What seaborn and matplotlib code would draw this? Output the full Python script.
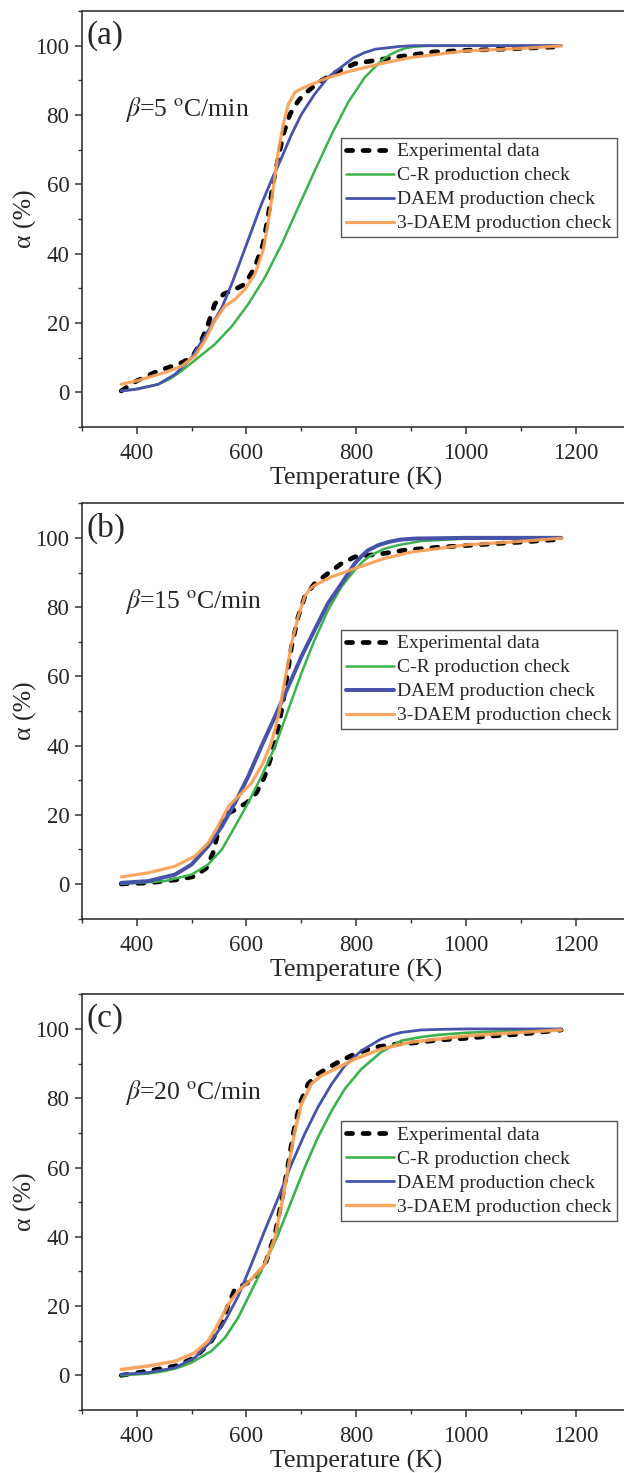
import matplotlib
matplotlib.use("Agg")
import matplotlib.pyplot as plt
import seaborn as sns
import pandas as pd
from matplotlib.ticker import MultipleLocator

# ---------------- data ----------------
# panel (a): beta = 5 C/min
T_exp_a = [372, 400, 439, 476, 500, 515, 530, 542, 558, 579, 597, 615, 630, 639, 648, 658, 667, 679, 694, 703, 712, 730, 761, 797, 840, 876, 941, 1006, 1050, 1100, 1140, 1173]
A_exp_a = [0.4, 3.3, 6.2, 8.1, 10.0, 13.8, 19.6, 25.4, 28.3, 29.7, 31.2, 36.0, 42.7, 50.4, 60.0, 67.7, 74.4, 80.2, 84.0, 85.7, 86.9, 89.3, 92.2, 94.8, 95.9, 96.8, 98.2, 98.7, 98.9, 99.2, 99.5, 99.7]
T_cr_a = [372, 400, 439, 460, 482, 512, 542, 573, 603, 633, 664, 694, 724, 755, 785, 815, 845, 860, 876, 890, 906, 930, 1173]
A_cr_a = [0.4, 1.0, 2.3, 3.8, 6.2, 10.0, 13.8, 19.0, 25.4, 33.0, 42.7, 53.3, 63.8, 74.4, 83.6, 90.8, 95.6, 97.3, 98.5, 99.3, 99.7, 99.95, 100]
T_daem_a = [372, 400, 439, 470, 500, 530, 555, 573, 591, 609, 627, 645, 664, 682, 700, 724, 748, 779, 795, 815, 835, 858, 880, 906, 1000, 1173]
A_daem_a = [0.4, 0.9, 2.3, 5.2, 10.0, 17.7, 24.4, 31.2, 38.8, 46.5, 54.2, 61.0, 67.7, 74.4, 80.2, 86.0, 90.8, 94.6, 96.5, 98.0, 99.0, 99.4, 99.8, 100, 100, 100]
T_3d_a = [372, 400, 451, 482, 506, 524, 542, 561, 579, 597, 615, 630, 639, 648, 658, 667, 676, 688, 700, 712, 742, 785, 850, 900, 1000, 1100, 1173]
A_3d_a = [2.3, 3.3, 5.7, 7.6, 10.5, 14.8, 20.6, 24.9, 26.8, 29.7, 34.0, 40.8, 48.5, 58.0, 69.6, 77.3, 83.0, 86.5, 87.6, 88.4, 90.4, 92.5, 95.0, 96.6, 98.5, 99.2, 99.9]

# panel (b): beta = 15 C/min
T_exp_b = [372, 421, 476, 506, 527, 539, 548, 561, 579, 600, 618, 633, 645, 655, 664, 673, 682, 694, 706, 724, 748, 773, 797, 850, 890, 950, 1000, 1100, 1173]
A_exp_b = [0.0, 0.3, 1.25, 2.2, 4.6, 8.9, 14.7, 20.0, 21.4, 23.4, 26.3, 31.0, 36.8, 42.6, 50.3, 59.0, 68.6, 77.2, 83.0, 86.8, 89.7, 92.6, 94.5, 95.5, 96.5, 97.3, 97.8, 98.8, 99.6]
T_cr_b = [372, 451, 500, 530, 555, 579, 603, 627, 652, 676, 700, 724, 748, 773, 797, 812, 827, 850, 876, 918, 1000, 1173]
A_cr_b = [0.0, 0.8, 2.7, 5.6, 9.9, 16.6, 23.4, 31.0, 39.7, 50.3, 60.9, 70.5, 79.0, 85.9, 90.7, 93.2, 95.0, 96.8, 97.9, 99.1, 99.8, 100]
T_daem_b = [372, 421, 470, 500, 530, 555, 579, 603, 627, 652, 676, 700, 724, 748, 773, 797, 810, 821, 840, 858, 880, 906, 1000, 1173]
A_daem_b = [0.3, 0.8, 2.7, 5.6, 10.9, 16.6, 23.4, 31.0, 39.7, 48.4, 57.0, 65.7, 73.4, 81.0, 86.8, 92.6, 94.8, 96.4, 97.9, 98.8, 99.5, 99.8, 100, 100]
T_3d_b = [372, 421, 470, 506, 530, 548, 567, 585, 609, 630, 645, 658, 670, 682, 694, 706, 715, 724, 755, 800, 850, 900, 1000, 1100, 1173]
A_3d_b = [2.0, 3.2, 5.1, 8.0, 11.8, 16.6, 22.4, 25.3, 29.1, 34.9, 40.7, 48.4, 59.0, 69.5, 77.2, 83.0, 85.2, 86.3, 88.75, 91.3, 94.0, 95.9, 98.0, 99.0, 99.9]

# panel (c): beta = 20 C/min
T_exp_c = [372, 421, 470, 506, 536, 555, 567, 579, 603, 621, 636, 652, 664, 676, 685, 697, 712, 730, 761, 797, 833, 876, 900, 950, 1000, 1050, 1100, 1173]
A_exp_c = [0.0, 1.25, 2.7, 5.1, 9.9, 14.7, 20.5, 24.9, 26.8, 29.2, 33.0, 40.8, 50.4, 61.0, 69.7, 78.3, 84.1, 87.0, 89.9, 92.8, 94.7, 95.7, 95.9, 96.8, 97.3, 98.0, 98.5, 99.7]
T_cr_c = [372, 420, 451, 475, 500, 536, 561, 585, 609, 633, 658, 682, 706, 730, 755, 779, 809, 845, 882, 915, 950, 1000, 1100, 1173]
A_cr_c = [0.0, 0.5, 1.25, 2.2, 3.7, 7.0, 10.9, 16.7, 24.4, 32.1, 40.8, 50.4, 60.0, 68.7, 76.4, 82.7, 88.4, 93.3, 96.6, 97.6, 98.3, 98.9, 99.5, 99.8]
T_daem_c = [372, 421, 470, 506, 536, 561, 585, 609, 633, 658, 682, 706, 730, 755, 779, 809, 845, 865, 882, 918, 960, 1000, 1173]
A_daem_c = [0.3, 0.8, 2.2, 5.1, 9.9, 15.7, 22.9, 32.1, 41.7, 51.3, 61.0, 69.7, 77.4, 84.1, 89.4, 93.7, 97.1, 98.3, 99.0, 99.7, 99.9, 100, 100]
T_3d_c = [372, 421, 470, 506, 530, 548, 567, 585, 609, 633, 652, 664, 676, 688, 700, 718, 736, 767, 797, 845, 900, 1000, 1100, 1173]
A_3d_c = [1.7, 2.7, 4.1, 6.5, 9.9, 14.7, 20.5, 24.4, 27.7, 32.0, 39.8, 49.4, 60.0, 70.6, 78.3, 84.1, 86.5, 88.9, 91.3, 94.2, 96.2, 98.0, 99.0, 99.7]

series_labels = ["Experimental data", "C-R production check", "DAEM production check", "3-DAEM production check"]
panel_tags = ["(a)", "(b)", "(c)"]
rates = ["5", "15", "20"]
x_label = "Temperature (K)"
y_label = "α (%)"

panels = [
    [(T_exp_a, A_exp_a), (T_cr_a, A_cr_a), (T_daem_a, A_daem_a), (T_3d_a, A_3d_a)],
    [(T_exp_b, A_exp_b), (T_cr_b, A_cr_b), (T_daem_b, A_daem_b), (T_3d_b, A_3d_b)],
    [(T_exp_c, A_exp_c), (T_cr_c, A_cr_c), (T_daem_c, A_daem_c), (T_3d_c, A_3d_c)],
]

# ---------------- style ----------------
sns.set_style("ticks")
plt.rcParams["font.family"] = ["Liberation Serif", "DejaVu Serif"]
plt.rcParams["mathtext.fontset"] = "stix"

colors = ["black", "#3DB24C", "#4653A8", "#F8A055"]
widths = [[3.4, 1.8, 2.0, 2.3], [3.4, 1.8, 2.9, 2.3], [3.4, 1.9, 2.0, 2.5]]

fig = plt.figure(figsize=(6.24, 14.73), dpi=100)
W, H = 624.0, 1473.0
left_px, right_px = 81.7, 631.0
tops = [11.0, 503.3, 994.3]
bottoms = [427.0, 918.5, 1410.0]

for i, data in enumerate(panels):
    ax = fig.add_axes([left_px / W, 1 - bottoms[i] / H, (right_px - left_px) / W, (bottoms[i] - tops[i]) / H])
    for j, (T, A) in enumerate(data):
        df = pd.DataFrame({"T": T, "A": A})
        sns.lineplot(data=df, x="T", y="A", color=colors[j], lw=widths[i][j],
                     label=series_labels[j], estimator=None, ax=ax, zorder=2 + j)
        ln = ax.lines[-1]
        ln.set_solid_joinstyle("round")
        ln.set_solid_capstyle("round")
        if j == 0:
            ln.set_dashes((1.3, 2.2))
            ln.set_dash_capstyle("round")
            ln.set_zorder(2)
        if j == 3:
            ln.set_alpha(0.92)
    ax.set_xlim(300, 1300)
    ax.set_ylim(-10, 110)
    ax.xaxis.set_major_locator(MultipleLocator(200))
    ax.xaxis.set_minor_locator(MultipleLocator(100))
    ax.yaxis.set_major_locator(MultipleLocator(20))
    ax.yaxis.set_minor_locator(MultipleLocator(10))
    ax.tick_params(axis="both", which="major", direction="out", length=4.8, width=1.1,
                   labelsize=16.5, color="#333333", top=False, right=False)
    ax.tick_params(axis="x", which="major", pad=7)
    ax.tick_params(axis="y", which="major", pad=4)
    ax.tick_params(axis="both", which="minor", direction="out", length=2.8, width=1.0,
                   color="#333333", top=False, right=False)
    for s in ["left", "bottom", "top", "right"]:
        ax.spines[s].set_color("#333333")
        ax.spines[s].set_linewidth(1.2)
    ax.set_xlabel(x_label, fontsize=18.5, labelpad=2)
    ax.set_ylabel(y_label, fontsize=18.5, labelpad=-1)
    ax.text(0.008, 0.978, panel_tags[i], transform=ax.transAxes, fontsize=24, va="top", ha="left")
    ax.text(0.079, 0.748, r"$\beta$=" + rates[i] + r" $^{\mathrm{o}}$C/min", transform=ax.transAxes,
            fontsize=18.5, va="baseline", ha="left")
    leg = ax.legend(loc="upper left", bbox_to_anchor=(0.472, 0.695), borderaxespad=0, fontsize=14,
                    frameon=True, fancybox=False, framealpha=1, edgecolor="#555555",
                    handlelength=2.5, handletextpad=0.15, labelspacing=0.33, borderpad=0.25)
    leg.get_frame().set_linewidth(1.0)

fig.savefig("out.png", dpi=100)
